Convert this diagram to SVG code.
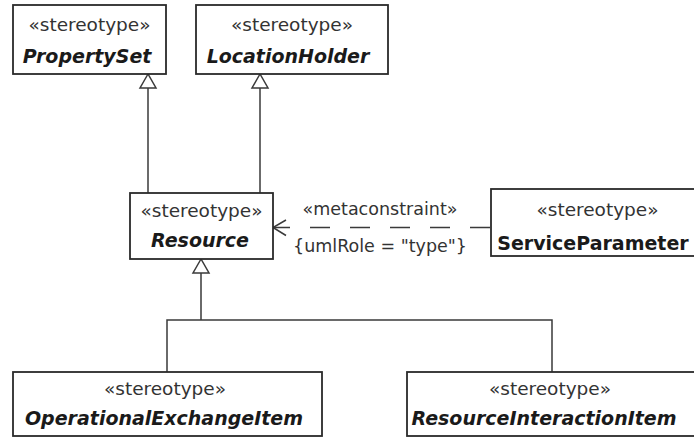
<svg xmlns="http://www.w3.org/2000/svg" width="694" height="438" viewBox="0 0 694 438">
<style>
.box{fill:#fff;stroke:#2a2a2a;stroke-width:1.8}
.st{font-family:"DejaVu Sans",Verdana,sans-serif;font-size:18.5px;fill:#333;text-anchor:middle}
.nm{font-family:"DejaVu Sans",Verdana,sans-serif;font-size:19px;font-weight:bold;font-style:italic;fill:#1a1a1a;text-anchor:middle}
.nmp{font-family:"DejaVu Sans",Verdana,sans-serif;font-size:19px;font-weight:bold;fill:#1a1a1a;text-anchor:middle}
.lbl{font-family:"DejaVu Sans",Verdana,sans-serif;font-size:17.5px;fill:#333;text-anchor:middle}
.ln{fill:none;stroke:#3a3a3a;stroke-width:1.5}
.tri{fill:#fff;stroke:#3a3a3a;stroke-width:1.5}
</style>
<rect width="694" height="438" fill="#fff"/>
<g id="connectors">
  <!-- Resource -> PropertySet -->
  <path class="ln" d="M148,88 V193"/>
  <polygon class="tri" points="148,74 140,88 156,88"/>
  <!-- Resource -> LocationHolder -->
  <path class="ln" d="M260,88 V193"/>
  <polygon class="tri" points="260,74 252,88 268,88"/>
  <!-- subclasses -> Resource -->
  <path class="ln" d="M201,273 V320 M167,372 V320 H552 V372"/>
  <polygon class="tri" points="201,259 193,273 209,273"/>
  <!-- metaconstraint dependency -->
  <path class="ln" d="M490,227.5 H273" stroke-dasharray="20 20"/>
  <path class="ln" d="M286,220 L273,227.5 L286,235.5"/>
  <text class="lbl" x="380" y="215">«metaconstraint»</text>
  <text class="lbl" x="380" y="252">{umlRole = "type"}</text>
</g>
<g id="PropertySet">
  <rect class="box" x="13" y="5" width="153" height="69"/>
  <text class="st" x="89.5" y="31">«stereotype»</text>
  <text class="nm" x="87" y="63">PropertySet</text>
</g>
<g id="LocationHolder">
  <rect class="box" x="196" y="5" width="192" height="69"/>
  <text class="st" x="292" y="31">«stereotype»</text>
  <text class="nm" x="288" y="63">LocationHolder</text>
</g>
<g id="Resource">
  <rect class="box" x="130" y="193" width="143" height="66"/>
  <text class="st" x="201.5" y="217">«stereotype»</text>
  <text class="nm" x="200" y="247">Resource</text>
</g>
<g id="ServiceParameter">
  <rect class="box" x="491" y="189" width="212" height="67"/>
  <text class="st" x="597.5" y="216">«stereotype»</text>
  <text class="nmp" x="593" y="250">ServiceParameter</text>
</g>
<g id="OperationalExchangeItem">
  <rect class="box" x="13" y="372" width="309" height="64"/>
  <text class="st" x="165" y="395">«stereotype»</text>
  <text class="nm" x="164" y="425">OperationalExchangeItem</text>
</g>
<g id="ResourceInteractionItem">
  <rect class="box" x="407" y="372" width="290" height="64"/>
  <text class="st" x="550" y="395">«stereotype»</text>
  <text class="nm" x="544" y="425">ResourceInteractionItem</text>
</g>
</svg>
